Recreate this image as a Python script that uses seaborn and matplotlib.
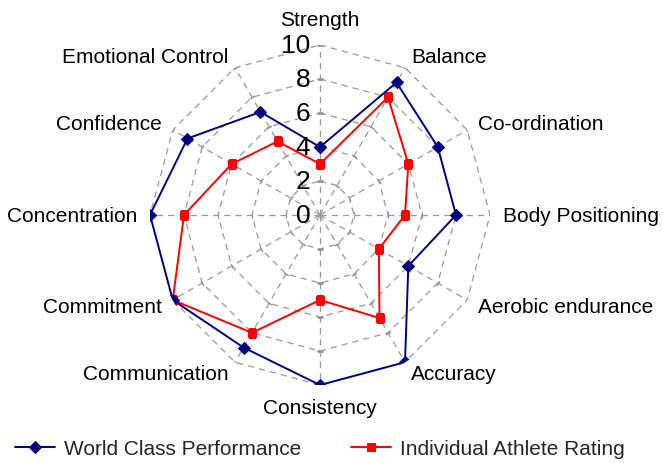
import numpy as np
import pandas as pd
import matplotlib
matplotlib.use('Agg')
import matplotlib.pyplot as plt
import seaborn as sns

# categories clockwise from the top
categories = ['Strength', 'Balance', 'Co-ordination', 'Body Positioning',
              'Aerobic endurance', 'Accuracy', 'Consistency', 'Communication',
              'Commitment', 'Concentration', 'Confidence', 'Emotional Control']
world_class = [4, 9, 8, 8, 6, 10, 10, 9, 10, 10, 9, 7]
athlete = [3, 8, 6, 5, 4, 7, 5, 8, 10, 8, 6, 5]
ring_ticks = [0, 2, 4, 6, 8, 10]

sns.set_theme(style='white')
plt.rcParams['font.family'] = ['Liberation Sans', 'DejaVu Sans']

n = len(categories)
theta = np.linspace(0, 2 * np.pi, n, endpoint=False)
theta_closed = np.append(theta, 2 * np.pi)

fig = plt.figure(figsize=(6.62, 4.64), dpi=100)
ax = fig.add_axes([150 / 662, 78 / 464, 340 / 662, 340 / 464], projection='polar')
ax.set_theta_zero_location('N')
ax.set_theta_direction(-1)
ax.set_ylim(0, 10)
ax.grid(False)
ax.set_xticks([])
ax.set_yticks([])
ax.spines['polar'].set_visible(False)
ax.set_facecolor('none')

# polygon grid + spokes
grid_kw = dict(color='#999999', lw=0.9, ls=(0, (5, 4)), zorder=1)
for r in ring_ticks[1:]:
    ax.plot(theta_closed, [r] * (n + 1), **grid_kw)
for t in theta:
    ax.plot([t, t], [0, 10], **grid_kw)
    # little cross ticks on each spoke
    ang = 90 - np.degrees(t)
    ax.plot([t] * 5, ring_ticks[1:], ls='none', marker=(2, 2, ang),
            markersize=4, markeredgewidth=0.8, color='#999999', zorder=1)

df = pd.DataFrame({
    'theta': np.concatenate([theta_closed, theta_closed]),
    'value': world_class + world_class[:1] + athlete + athlete[:1],
    'series': ['World Class Performance'] * (n + 1) + ['Individual Athlete Rating'] * (n + 1),
})

sns.lineplot(data=df[df.series == 'World Class Performance'], x='theta', y='value',
             sort=False, estimator=None, color='#000080', lw=1.4, marker='D',
             markersize=6, markeredgecolor='#000080', ax=ax, zorder=4,
             label='World Class Performance')
sns.lineplot(data=df[df.series == 'Individual Athlete Rating'], x='theta', y='value',
             sort=False, estimator=None, color='#FF0000', lw=1.4, marker='s',
             markersize=5.5, markeredgecolor='#FF0000', ax=ax, zorder=3,
             label='Individual Athlete Rating')
ax.set_xlabel('')
ax.set_ylabel('')

# ring value labels on the Strength axis
for r in ring_ticks:
    ax.annotate(str(r), xy=(0, r), xytext=(-7, 0), textcoords='offset points',
                ha='right', va='center', fontsize=19, color='black', zorder=5)

# category labels
for t, lab in zip(theta, categories):
    s = np.sin(t)
    if abs(s) < 1e-6:
        ha = 'center'
        r = 11.5 if np.cos(t) > 0 else 11.3
    else:
        ha = 'left' if s > 0 else 'right'
        r = 10.75
    ax.text(t, r, lab, ha=ha, va='center', fontsize=15, color='black')

handles, labels = ax.get_legend_handles_labels()
ax.get_legend().remove()
fig.legend(handles, labels, loc='center', bbox_to_anchor=(0.483, 14 / 464), ncol=2,
           frameon=False, fontsize=15, handlelength=1.9, handletextpad=0.43,
           columnspacing=2.4)

fig.savefig('out.png', dpi=100)
